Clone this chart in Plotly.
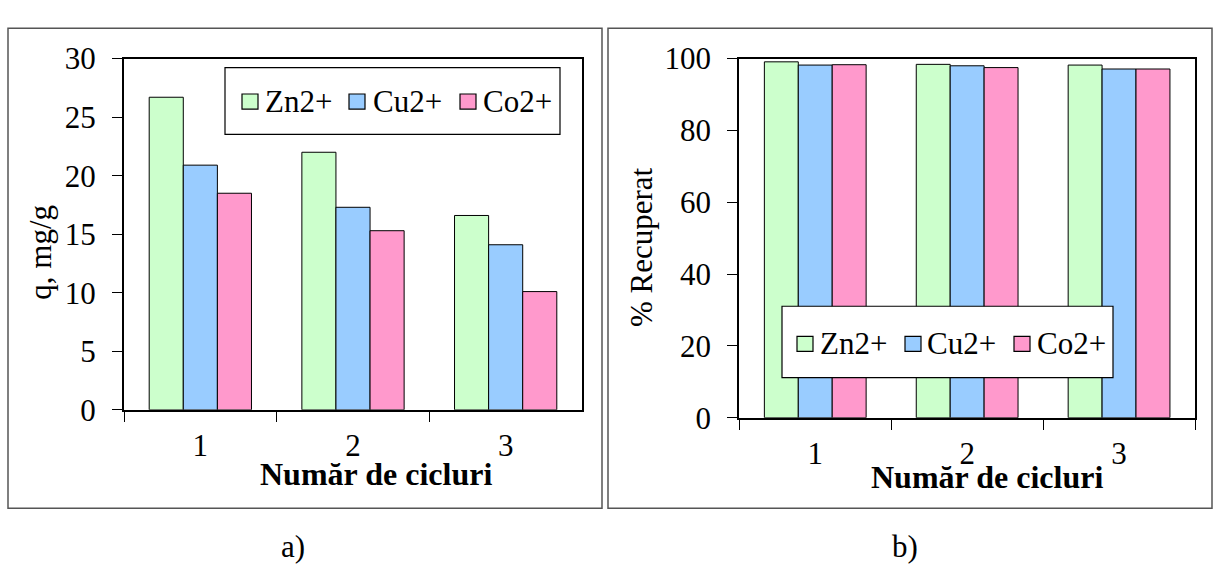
import plotly.graph_objects as go

# ---- data ----
cycles = ["1", "2", "3"]
ions = ["Zn2+", "Cu2+", "Co2+"]
ion_colors = ["#CCFFCC", "#99CCFF", "#FF99CC"]

q_zn = [26.7, 22.0, 16.6]
q_cu = [20.9, 17.3, 14.1]
q_co = [18.5, 15.3, 10.1]

rec_zn = [99.1, 98.4, 98.2]
rec_cu = [98.2, 98.0, 97.1]
rec_co = [98.3, 97.5, 97.1]

q_ticks = [0, 5, 10, 15, 20, 25, 30]
rec_ticks = [0, 20, 40, 60, 80, 100]

q_series = [q_zn, q_cu, q_co]
rec_series = [rec_zn, rec_cu, rec_co]

# ---- layout helpers (pixel -> paper) ----
W, H = 1213, 575
FONT = "Liberation Serif, Times New Roman, serif"
FS = 31


def px(x):
    return x / W


def py(y):
    return 1 - y / H


fig = go.Figure()

for vals, name, col in zip(q_series, ions, ion_colors):
    fig.add_trace(go.Bar(x=cycles, y=vals, name=name, marker_color=col,
                         marker_line=dict(color="black", width=1),
                         xaxis="x", yaxis="y", showlegend=False))

for vals, name, col in zip(rec_series, ions, ion_colors):
    fig.add_trace(go.Bar(x=cycles, y=vals, name=name, marker_color=col,
                         marker_line=dict(color="black", width=1),
                         xaxis="x2", yaxis="y2", showlegend=False))

axis_common = dict(showline=True, linecolor="black", linewidth=2, mirror=True,
                   ticks="outside", ticklen=10, tickwidth=1, tickcolor="black",
                   showgrid=False, zeroline=False,
                   tickfont=dict(family=FONT, size=FS, color="black"))

xcat = dict(axis_common, type="category", tickson="boundaries",
            ticklabelstandoff=7)

fig.update_layout(
    width=W, height=H,
    margin=dict(l=0, r=0, t=0, b=0),
    paper_bgcolor="white", plot_bgcolor="white",
    barmode="group", bargap=0.33, bargroupgap=0,
    xaxis=dict(xcat, domain=[px(124), px(582)], anchor="y"),
    yaxis=dict(axis_common, domain=[py(418.3), py(44.3)], anchor="x",
               range=[0, 30], tickvals=q_ticks, ticklabelstandoff=10),
    xaxis2=dict(xcat, domain=[px(739.3), px(1195)], anchor="y2"),
    yaxis2=dict(axis_common, domain=[py(426.7), py(44.3)], anchor="x2",
                range=[0, 100], tickvals=rec_ticks, ticklabelstandoff=10),
)

shapes = []
annotations = []

# panel frames
for x0, x1 in [(8, 602), (608, 1212)]:
    shapes.append(dict(type="rect", xref="paper", yref="paper",
                       x0=px(x0), x1=px(x1), y0=py(523), y1=py(12),
                       line=dict(color="#555555", width=1.5)))


def add_legend(box, squares, texts, yc):
    x0, x1, y0, y1 = box
    shapes.append(dict(type="rect", xref="paper", yref="paper",
                       x0=px(x0), x1=px(x1), y0=py(y1), y1=py(y0),
                       fillcolor="white", line=dict(color="black", width=1.2),
                       layer="above"))
    for sx, tx, name, col in zip(squares, texts, ions, ion_colors):
        shapes.append(dict(type="rect", xref="paper", yref="paper",
                           x0=px(sx), x1=px(sx + 16), y0=py(yc + 8), y1=py(yc - 8),
                           fillcolor=col, line=dict(color="black", width=1.2),
                           layer="above"))
        annotations.append(dict(text=name, xref="paper", yref="paper",
                                x=px(tx), y=py(yc), xanchor="left", yanchor="middle",
                                showarrow=False,
                                font=dict(family=FONT, size=FS, color="black")))


add_legend((225, 560, 54, 125), [242, 349, 460], [263, 371, 481], 90)
add_legend((782, 1113, 308, 384), [797, 905, 1014], [818, 925, 1035], 348)

# axis titles and panel captions
annotations += [
    dict(text="q, mg/g", x=px(41), y=py(251), textangle=-90),
    dict(text="% Recuperat", x=px(641), y=py(245), textangle=-90),
    dict(text="<b>Număr de cicluri</b>", x=px(376), y=py(487), size=32),
    dict(text="<b>Număr de cicluri</b>", x=px(987), y=py(490), size=32),
    dict(text="a)", x=px(293), y=py(564)),
    dict(text="b)", x=px(905), y=py(564)),
]
for a in annotations[-6:]:
    size = a.pop("size", FS)
    a.update(xref="paper", yref="paper", xanchor="center", yanchor="middle",
             showarrow=False, font=dict(family=FONT, size=size, color="black"))

fig.update_layout(shapes=shapes, annotations=annotations)

fig.write_html("out.html")
